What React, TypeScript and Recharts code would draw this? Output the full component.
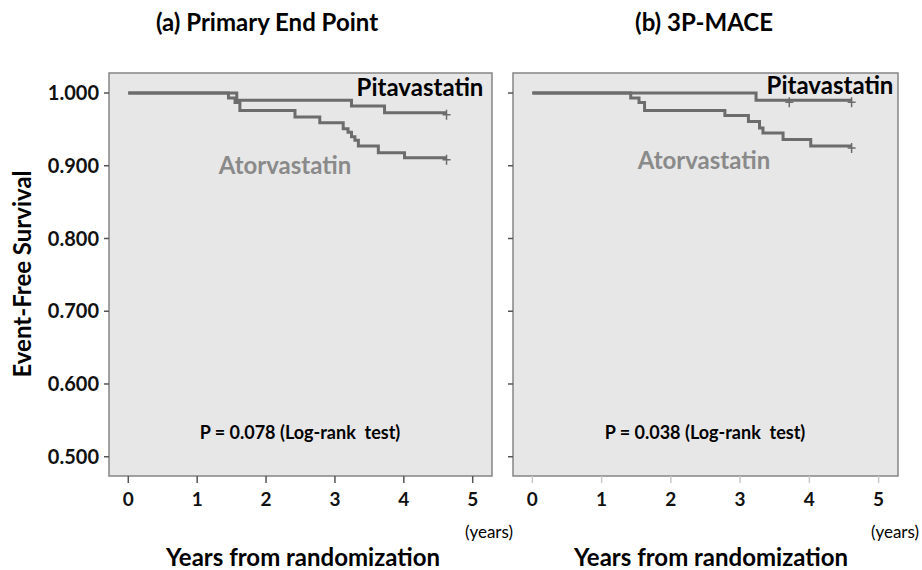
import React from 'react';
import { LineChart, Line, XAxis, YAxis, ReferenceArea } from 'recharts';

// (a) Primary end point
const aPitaT = [0, 1.575, 3.24, 3.72, 4.62];
const aPitaS = [1.0, 0.99, 0.982, 0.973, 0.973];
const aPitaCensor = [4.62];
const aAtorT = [0, 1.454, 1.55, 1.62, 2.42, 2.78, 3.12, 3.19, 3.24, 3.29, 3.34, 3.63, 4.01, 4.62];
const aAtorS = [1.0, 0.993, 0.987, 0.976, 0.967, 0.959, 0.951, 0.946, 0.94, 0.935, 0.927, 0.918, 0.911, 0.911];
const aAtorCensor = [4.62];

// (b) 3P-MACE
const bPitaT = [0, 3.23, 3.71, 4.61];
const bPitaS = [1.0, 0.99, 0.99, 0.99];
const bPitaCensor = [3.71, 4.61];
const bAtorT = [0, 1.42, 1.54, 1.62, 2.78, 3.12, 3.28, 3.33, 3.62, 4.02, 4.61];
const bAtorS = [1.0, 0.993, 0.987, 0.976, 0.969, 0.961, 0.952, 0.945, 0.936, 0.927, 0.927];
const bAtorCensor = [4.61];

const xTicks = [0, 1, 2, 3, 4, 5];
const yTicks = [0.5, 0.6, 0.7, 0.8, 0.9, 1.0];

const X_DOMAIN: [number, number] = [-0.28, 5.28];
const Y_DOMAIN: [number, number] = [0.4735, 1.0275];

const FONT = 'Lato, "Open Sans", sans-serif';
const LINE = '#6c6c6c';

const toRows = (t: number[], s: number[], censor: number[]) =>
  t.map((v, i) => ({ t: v, s: s[i], c: censor.includes(v) }));

const CensorDot = (props: any) => {
  const { cx, cy, payload, index } = props;
  if (!payload || !payload.c || cx == null) return <g key={`d${index}`} />;
  return (
    <path
      key={`d${index}`}
      d={`M${cx - 4},${cy + 2}H${cx + 4}M${cx},${cy - 3}V${cy + 7}`}
      stroke={LINE}
      strokeWidth={1.5}
      fill="none"
    />
  );
};

const Label = ({ x, y, children, size, bold = true, color = '#000', rotate = false }: any) => (
  <div
    style={{
      position: 'absolute',
      left: x,
      top: y,
      transform: `translate(-50%, -50%)${rotate ? ' rotate(-90deg)' : ''}`,
      whiteSpace: 'nowrap',
      fontFamily: FONT,
      fontWeight: bold ? 700 : 400,
      fontSize: size,
      lineHeight: 1,
      color,
    }}
  >
    {children}
  </div>
);

interface PanelProps {
  left: number;
  width: number;
  yAxisWidth: number;
  marginRight: number;
  showYLabels: boolean;
  pita: { t: number; s: number; c: boolean }[];
  ator: { t: number; s: number; c: boolean }[];
  xTickColor: string;
}

const Panel = ({ left, width, yAxisWidth, marginRight, showYLabels, pita, ator, xTickColor }: PanelProps) => (
  <div style={{ position: 'absolute', left, top: 0 }}>
    <LineChart width={width} height={570} margin={{ top: 73, right: marginRight, bottom: 54, left: 0 }}>
      <ReferenceArea
        x1={X_DOMAIN[0]}
        x2={X_DOMAIN[1]}
        y1={Y_DOMAIN[0]}
        y2={Y_DOMAIN[1]}
        fill="#e7e7e7"
        fillOpacity={1}
        stroke="#858585"
        strokeWidth={1.5}
        ifOverflow="visible"
      />
      <XAxis
        dataKey="t"
        type="number"
        domain={X_DOMAIN}
        ticks={xTicks}
        allowDataOverflow
        axisLine={false}
        tickLine={{ stroke: xTickColor, strokeWidth: 1.5 }}
        tickSize={7}
        tickMargin={10}
        height={40}
        tick={{ fill: '#111', fontSize: 19, fontWeight: 700, fontFamily: FONT }}
      />
      <YAxis
        dataKey="s"
        type="number"
        domain={Y_DOMAIN}
        ticks={yTicks}
        allowDataOverflow
        width={yAxisWidth}
        axisLine={false}
        tickLine={{ stroke: '#555', strokeWidth: 1.5 }}
        tickSize={5}
        tickMargin={5}
        tickFormatter={(v: number) => (showYLabels ? v.toFixed(3) : '')}
        tick={{ fill: '#111', fontSize: 20, fontWeight: 700, fontFamily: FONT }}
      />
      <Line
        data={ator}
        dataKey="s"
        type="stepAfter"
        stroke={LINE}
        strokeWidth={3}
        dot={CensorDot}
        activeDot={false}
        isAnimationActive={false}
      />
      <Line
        data={pita}
        dataKey="s"
        type="stepAfter"
        stroke={LINE}
        strokeWidth={3}
        dot={CensorDot}
        activeDot={false}
        isAnimationActive={false}
      />
    </LineChart>
  </div>
);

export default function App() {
  return (
    <div style={{ position: 'absolute', left: 0, top: 0, width: 922, height: 570, background: '#fff', overflow: 'hidden' }}>
      <Panel
        left={0}
        width={510}
        yAxisWidth={109}
        marginRight={18}
        showYLabels
        pita={toRows(aPitaT, aPitaS, aPitaCensor)}
        ator={toRows(aAtorT, aAtorS, aAtorCensor)}
        xTickColor="#555"
      />
      <Panel
        left={460}
        width={462}
        yAxisWidth={53}
        marginRight={24}
        showYLabels={false}
        pita={toRows(bPitaT, bPitaS, bPitaCensor)}
        ator={toRows(bAtorT, bAtorS, bAtorCensor)}
        xTickColor="#c8c8c8"
      />

      <Label x={267} y={22} size={24}>(a) Primary End Point</Label>
      <Label x={704} y={22} size={24}>(b) 3P-MACE</Label>

      <Label x={22} y={274} size={24} rotate>Event-Free Survival</Label>

      <Label x={420} y={87} size={24}>Pitavastatin</Label>
      <Label x={285} y={165} size={24} color="#8a8a8a">Atorvastatin</Label>
      <Label x={830} y={85} size={24}>Pitavastatin</Label>
      <Label x={704} y={160} size={24} color="#8a8a8a">Atorvastatin</Label>

      <Label x={300} y={432} size={18}>P = 0.078 (Log-rank&nbsp; test)</Label>
      <Label x={705} y={432} size={18}>P = 0.038 (Log-rank&nbsp; test)</Label>

      <Label x={489} y={531} size={17} bold={false}>(years)</Label>
      <Label x={895} y={531} size={17} bold={false}>(years)</Label>

      <Label x={303} y={557} size={24}>Years from randomization</Label>
      <Label x={711} y={557} size={24}>Years from randomization</Label>
    </div>
  );
}
